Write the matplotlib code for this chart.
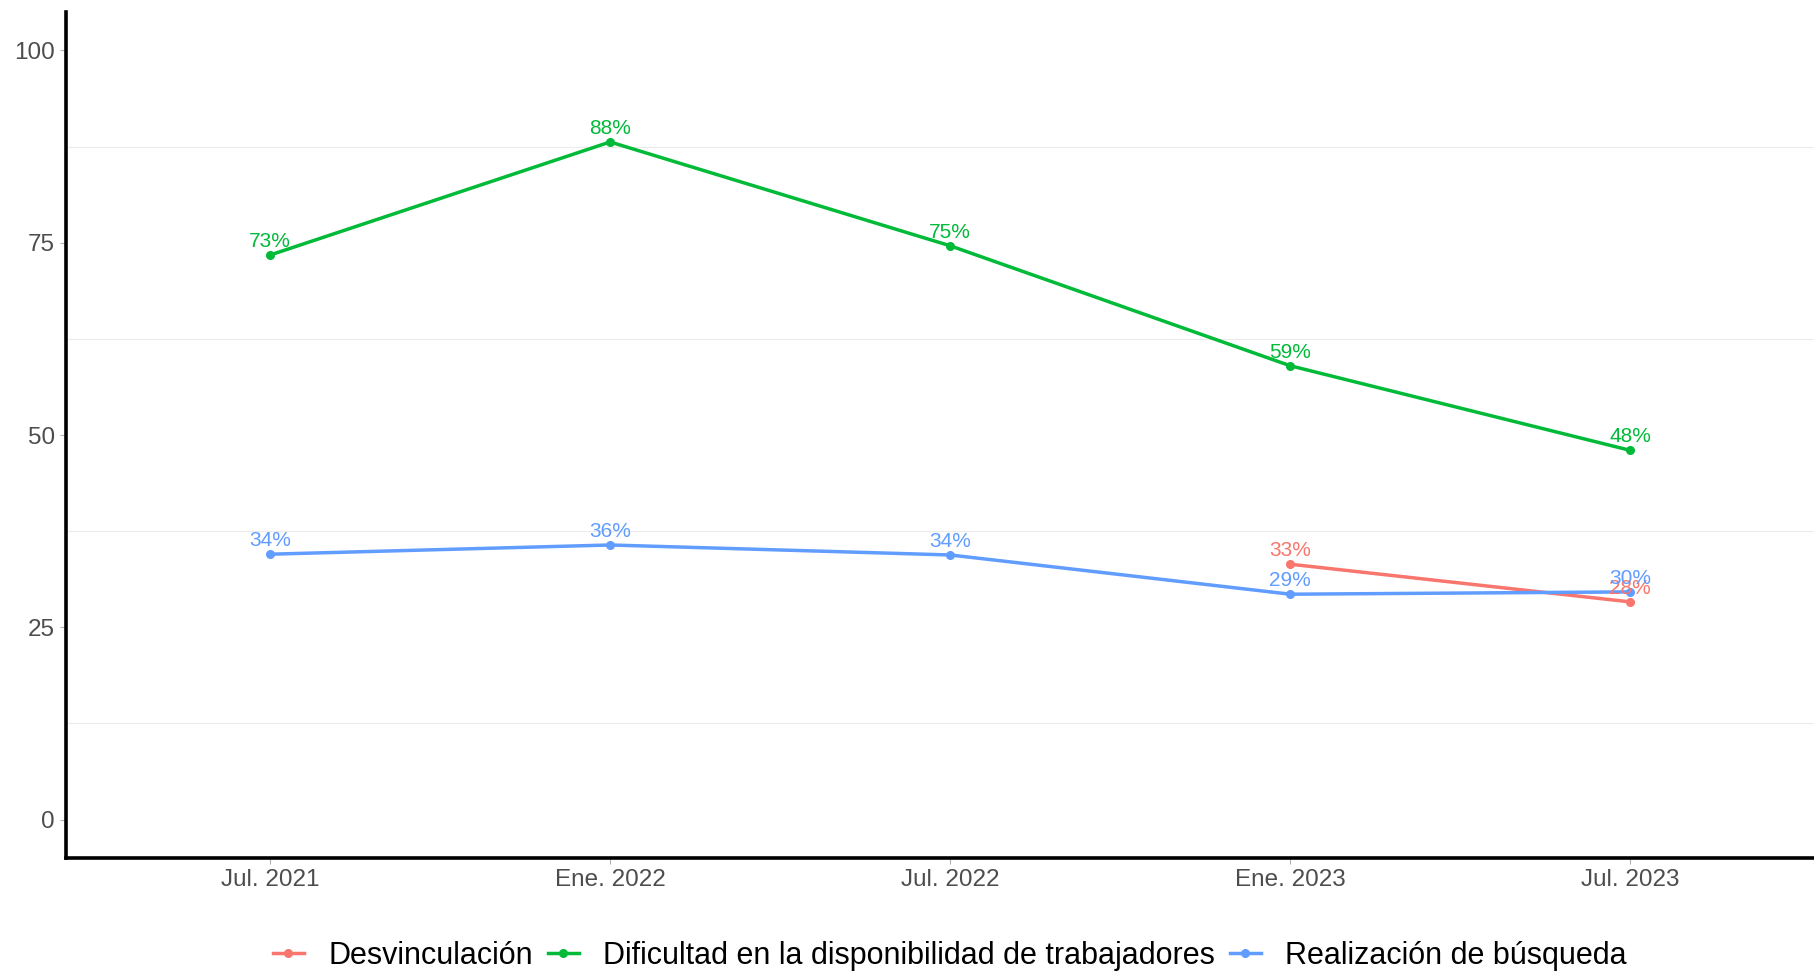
import matplotlib.pyplot as plt
from matplotlib.ticker import MultipleLocator

plt.rcParams['font.family'] = ['Liberation Sans', 'DejaVu Sans']

# Datos
periodos = ['Jul. 2021', 'Ene. 2022', 'Jul. 2022', 'Ene. 2023', 'Jul. 2023']
dificultad = [73.4, 88.1, 74.6, 59.0, 48.0]
busqueda = [34.5, 35.7, 34.4, 29.3, 29.6]
desvinculacion_periodos = ['Ene. 2023', 'Jul. 2023']
desvinculacion = [33.2, 28.3]

series = [
    ('Desvinculación', desvinculacion_periodos, desvinculacion, '#F8766D'),
    ('Dificultad en la disponibilidad de trabajadores', periodos, dificultad, '#00BA38'),
    ('Realización de búsqueda', periodos, busqueda, '#619CFF'),
]

fig = plt.figure(figsize=(18.14, 9.71), dpi=100)
ax = fig.add_axes([66 / 1814, 1 - 858 / 971, 1 - 66 / 1814, (858 - 12) / 971])

pos = {p: i + 1 for i, p in enumerate(periodos)}

for nombre, xs, ys, color in series:
    xx = [pos[p] for p in xs]
    ax.plot(xx, ys, color=color, lw=2.5, marker='o', ms=5.5, label=nombre, zorder=3)
    for x, y in zip(xx, ys):
        ax.annotate(f'{round(y):.0f}%', (x, y), xytext=(0, 3), textcoords='offset points',
                    ha='center', va='bottom', color=color, fontsize=15, zorder=4)

ax.set_xlim(0.4, 5.54)
ax.set_ylim(-5, 105)
ax.set_xticks(range(1, 6))
ax.set_xticklabels(periodos)
ax.yaxis.set_major_locator(MultipleLocator(25))
ax.yaxis.set_minor_locator(MultipleLocator(12.5))
ax.grid(which='minor', axis='y', color='#EBEBEB', lw=0.8)
ax.grid(which='major', visible=False)
ax.tick_params(which='minor', length=0)
ax.tick_params(which='major', length=4, width=0.8, color='#B0B0B0',
               labelsize=17.5, labelcolor='#4D4D4D', pad=4)

for s in ['top', 'right']:
    ax.spines[s].set_visible(False)
for s in ['left', 'bottom']:
    ax.spines[s].set_linewidth(2.6)
    ax.spines[s].set_color('black')

fig.legend(loc='center', bbox_to_anchor=(950 / 1814, 1 - 956 / 971), ncol=3,
           frameon=False, fontsize=22, handlelength=1.0, handletextpad=0.8,
           columnspacing=0.5, borderaxespad=0)

fig.savefig('out.png', dpi=100)
